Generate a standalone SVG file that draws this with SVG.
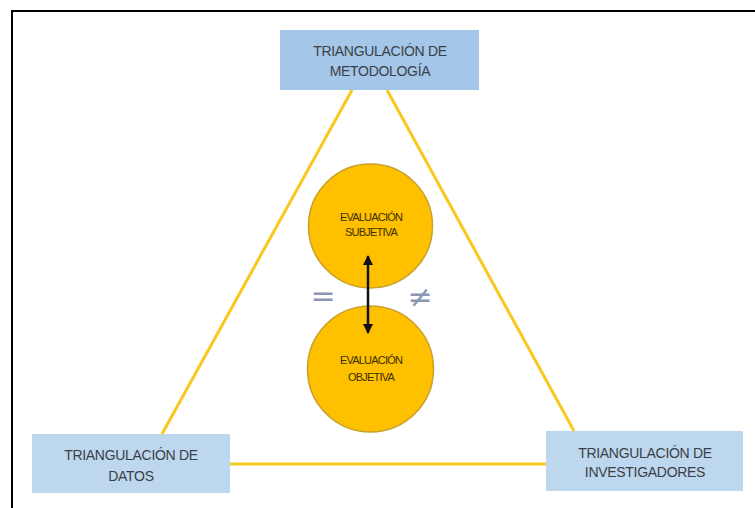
<svg xmlns="http://www.w3.org/2000/svg" width="755" height="508" viewBox="0 0 755 508">
<defs>
<style>
.box{stroke:none}
.lbl{font-family:"Liberation Sans",Arial,sans-serif;font-size:14px;fill:#3b3f46;text-anchor:middle;dominant-baseline:central;letter-spacing:-0.3px}
.clbl{font-family:"Liberation Sans",Arial,sans-serif;font-size:11px;fill:#3a3000;text-anchor:middle;dominant-baseline:central;letter-spacing:-0.8px}
.circ{fill:#ffc000;stroke:#c8a02a;stroke-width:1.5}
.edge{stroke:#f7c81e;stroke-width:3;fill:none}
.sym{font-family:"DejaVu Sans",sans-serif;font-size:30px;fill:#8a98b4;text-anchor:middle;dominant-baseline:central}
</style>
<marker id="ah" viewBox="0 0 10 10" refX="9" refY="5" markerWidth="4" markerHeight="4" orient="auto-start-reverse">
<path d="M0,0 L10,5 L0,10 z" fill="#111"/>
</marker>
</defs>
<rect x="0" y="0" width="755" height="508" fill="#ffffff"/>
<path d="M12,508 V11 H755" fill="none" stroke="#000" stroke-width="2"/>
<g id="node-metodologia">
<rect class="box" x="280" y="30" width="199" height="60" fill="#a4c6e8"/>
<text class="lbl" x="380" y="51">TRIANGULACIÓN DE</text>
<text class="lbl" x="380" y="71">METODOLOGÍA</text>
</g>
<g id="node-datos">
<rect class="box" x="32" y="434" width="198" height="59" fill="#bdd7ee"/>
<text class="lbl" x="131" y="455">TRIANGULACIÓN DE</text>
<text class="lbl" x="131" y="476">DATOS</text>
</g>
<g id="node-investigadores">
<rect class="box" x="546" y="431" width="197" height="60" fill="#bdd7ee"/>
<text class="lbl" x="645" y="453">TRIANGULACIÓN DE</text>
<text class="lbl" x="645" y="472">INVESTIGADORES</text>
</g>
<g id="node-subjetiva">
<circle class="circ" cx="370.5" cy="226" r="62"/>
<text class="clbl" x="371" y="217">EVALUACIÓN</text>
<text class="clbl" x="371" y="232">SUBJETIVA</text>
</g>
<g id="node-objetiva">
<circle class="circ" cx="370.5" cy="369" r="63"/>
<text class="clbl" x="371" y="360">EVALUACIÓN</text>
<text class="clbl" x="371" y="377">OBJETIVA</text>
</g>
<g id="symbols">
<text class="sym" x="323" y="295">=</text>
<text class="sym" x="420" y="296">≠</text>
</g>
<g id="connectors">
<line class="edge" x1="352" y1="90" x2="162" y2="434"/>
<line class="edge" x1="387" y1="90" x2="574" y2="431"/>
<line class="edge" x1="230" y1="464" x2="546" y2="464"/>
<line x1="368" y1="256" x2="368" y2="333" stroke="#111" stroke-width="2.5" marker-start="url(#ah)" marker-end="url(#ah)"/>
</g>
</svg>
